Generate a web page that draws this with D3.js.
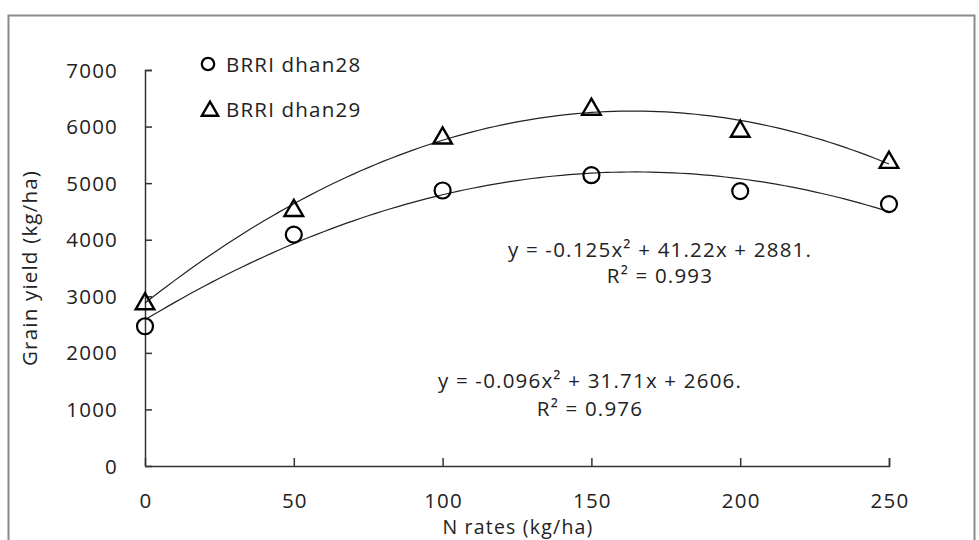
<!DOCTYPE html>
<html>
<head>
<meta charset="utf-8">
<script src="https://cdn.jsdelivr.net/npm/d3@7"></script>
<style>
  body { margin: 0; background: #fff; }
  text { font-family: "Open Sans", sans-serif; fill: #222; letter-spacing: 1.2px; }
</style>
</head>
<body>
<svg id="svg" width="979" height="540"></svg>
<script>
// N rates (kg/ha)
let nRates = [0, 50, 100, 150, 200, 250];
// grain yield (kg/ha)
let dhan28 = [2470, 4090, 4870, 5140, 4860, 4630];
let dhan29 = [2900, 4550, 5830, 6340, 5950, 5400];
let xTicks = [0, 50, 100, 150, 200, 250];
let yTicks = [0, 1000, 2000, 3000, 4000, 5000, 6000, 7000];
let eq29 = ["y = -0.125x\u00b2 + 41.22x + 2881.", "R\u00b2 = 0.993"];
let eq28 = ["y = -0.096x\u00b2 + 31.71x + 2606.", "R\u00b2 = 0.976"];

const svg = d3.select("#svg");

// outer frame
svg.append("rect")
  .attr("x", 8.5).attr("y", 15.5)
  .attr("width", 966).attr("height", 560)
  .attr("fill", "none")
  .attr("stroke", "#8a8a8a")
  .attr("stroke-width", 2);

let x = d3.scaleLinear().domain([0, 250]).range([145, 889]);
let y = d3.scaleLinear().domain([0, 7000]).range([466, 70]);

// least squares quadratic (what the spreadsheet trendline does)
const quadFit = function(xs, ys) {
  let s = [0, 0, 0, 0, 0], t = [0, 0, 0];
  xs.forEach((xv, i) => {
    for (let k = 0; k < 5; k++) s[k] += Math.pow(xv, k);
    for (let k = 0; k < 3; k++) t[k] += ys[i] * Math.pow(xv, k);
  });
  let m = [[s[0], s[1], s[2], t[0]], [s[1], s[2], s[3], t[1]], [s[2], s[3], s[4], t[2]]];
  for (let i = 0; i < 3; i++) {
    for (let j = i + 1; j < 3; j++) {
      let f = m[j][i] / m[i][i];
      for (let k = i; k < 4; k++) m[j][k] -= f * m[i][k];
    }
  }
  let c = [0, 0, 0];
  for (let i = 2; i >= 0; i--) {
    let v = m[i][3];
    for (let k = i + 1; k < 3; k++) v -= m[i][k] * c[k];
    c[i] = v / m[i][i];
  }
  return (xv) => c[0] + c[1] * xv + c[2] * xv * xv;
}

const axisColor = "#333";

// y axis, ticks pointing inward
let yAxis = svg.append("g")
  .attr("transform", "translate(145,0)")
  .call(d3.axisRight(y).tickValues(yTicks).tickSize(7).tickFormat(""));
yAxis.select(".domain").attr("stroke", axisColor).attr("stroke-width", 1.5).attr("d", "M7,70.5H0.5V466.5");
yAxis.selectAll(".tick line").attr("stroke", axisColor).attr("stroke-width", 1.5);

svg.append("g").selectAll("text")
  .data(yTicks).join("text")
  .attr("x", 118)
  .attr("y", d => y(d) + 7.5)
  .attr("text-anchor", "end")
  .attr("font-size", 20.5)
  .text(d => d);

// x axis, ticks pointing up
let xAxis = svg.append("g")
  .attr("transform", "translate(0,466)")
  .call(d3.axisTop(x).tickValues(xTicks).tickSize(8).tickFormat(""));
xAxis.select(".domain").attr("stroke", axisColor).attr("stroke-width", 1.5).attr("d", "M145,0.5H889.5V-8");
xAxis.selectAll(".tick line").attr("stroke", axisColor).attr("stroke-width", 1.5);

svg.append("g").selectAll("text")
  .data(xTicks).join("text")
  .attr("x", d => x(d) + 1)
  .attr("y", 508)
  .attr("text-anchor", "middle")
  .attr("font-size", 20.5)
  .text(d => d);

svg.append("text")
  .attr("x", 518).attr("y", 533.5)
  .attr("text-anchor", "middle")
  .attr("font-size", 19.5)
  .text("N rates (kg/ha)");

svg.append("text")
  .attr("transform", "translate(37,268) rotate(-90)")
  .attr("text-anchor", "middle")
  .attr("font-size", 20.5)
  .text("Grain yield (kg/ha)");

// trendlines
let samples = d3.range(0, 250.5, 2.5);
let line = d3.line().x(d => x(d[0])).y(d => y(d[1]));
[dhan28, dhan29].forEach((series) => {
  let f = quadFit(nRates, series);
  svg.append("path")
    .datum(samples.map(v => [v, f(v)]))
    .attr("fill", "none")
    .attr("stroke", "#222")
    .attr("stroke-width", 1.2)
    .attr("d", line);
});

// markers
let circle = d3.symbol().type(d3.symbolCircle).size(Math.PI * 8 * 8);
let tri = d3.symbol().type(d3.symbolTriangle).size(150);

svg.append("g").selectAll("path")
  .data(nRates.map((v, i) => [v, dhan28[i]])).join("path")
  .attr("transform", d => `translate(${x(d[0])},${y(d[1])})`)
  .attr("d", circle)
  .attr("fill", "none")
  .attr("stroke", "#000")
  .attr("stroke-width", 2.2);

svg.append("g").selectAll("path")
  .data(nRates.map((v, i) => [v, dhan29[i]])).join("path")
  .attr("transform", d => `translate(${x(d[0])},${y(d[1]) + 2})`)
  .attr("d", tri)
  .attr("fill", "none")
  .attr("stroke", "#000")
  .attr("stroke-width", 2.4);

// legend
let legend = svg.append("g");
legend.append("path")
  .attr("transform", "translate(208,64)")
  .attr("d", d3.symbol().type(d3.symbolCircle).size(Math.PI * 6.2 * 6.2))
  .attr("fill", "none").attr("stroke", "#000").attr("stroke-width", 2.2);
legend.append("text")
  .attr("x", 226).attr("y", 72)
  .attr("font-size", 20.5)
  .text("BRRI dhan28");
legend.append("path")
  .attr("transform", "translate(210,111)")
  .attr("d", d3.symbol().type(d3.symbolTriangle).size(115))
  .attr("fill", "none").attr("stroke", "#000").attr("stroke-width", 2.4);
legend.append("text")
  .attr("x", 226).attr("y", 117)
  .attr("font-size", 20.5)
  .text("BRRI dhan29");

// equations
svg.append("g").selectAll("text")
  .data(eq29).join("text")
  .attr("x", 660)
  .attr("y", (d, i) => 257 + i * 26)
  .attr("text-anchor", "middle")
  .attr("font-size", 20.5)
  .text(d => d);

svg.append("g").selectAll("text")
  .data(eq28).join("text")
  .attr("x", 590)
  .attr("y", (d, i) => 388 + i * 28)
  .attr("text-anchor", "middle")
  .attr("font-size", 20.5)
  .text(d => d);
</script>
</body>
</html>
